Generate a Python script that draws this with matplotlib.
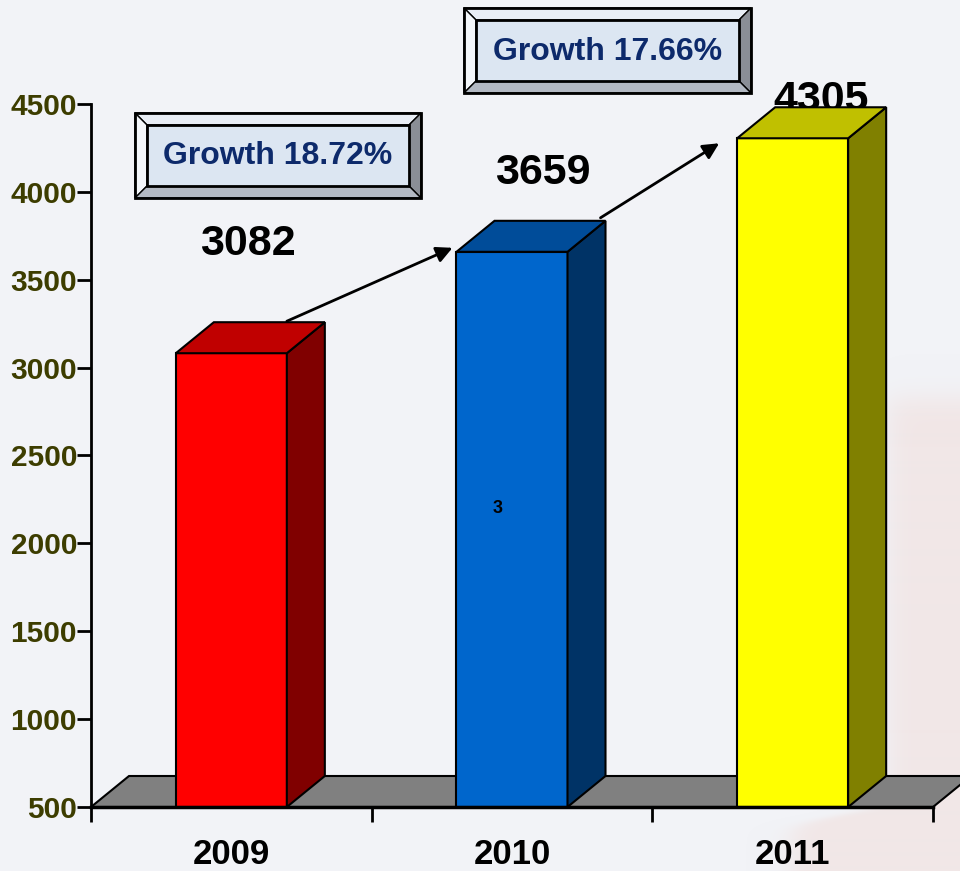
import numpy as np
import matplotlib.pyplot as plt
from matplotlib.patches import Polygon

years = ['2009', '2010', '2011']
revenue = [3082, 3659, 4305]
growth = ['Growth 18.72%', 'Growth 17.66%']
yticks = [500, 1000, 1500, 2000, 2500, 3000, 3500, 4000, 4500]

front_cols = ['#ff0000', '#0066cc', '#ffff00']
top_cols = ['#c00000', '#004c99', '#c0c000']
side_cols = ['#800000', '#003366', '#808000']

plt.rcParams['font.family'] = ['Liberation Sans', 'DejaVu Sans']
plt.rcParams['font.weight'] = 'bold'

W, H = 960, 871
fig = plt.figure(figsize=(W / 100, H / 100), dpi=100)
fig.patch.set_facecolor('#f2f3f7')

# pixel layer for background wash and callout boxes
bg = fig.add_axes([0, 0, 1, 1])
bg.set_xlim(0, W)
bg.set_ylim(H, 0)
bg.axis('off')

yy, xx = np.mgrid[0:H, 0:W].astype(float)
edge_x = 888 - 98 / (1 + np.exp(-(yy - 815) / 5))
alpha = 1 / (1 + np.exp(-(xx - edge_x) / 8)) / (1 + np.exp(-(yy - 398) / 8))
wash = np.zeros((H, W, 4))
wash[..., :3] = np.array([241, 231, 231]) / 255
wash[..., 3] = alpha
bg.imshow(wash, extent=(0, W, H, 0), aspect='auto', zorder=0, interpolation='bilinear')


def bevel_box(ax, x0, y0, x1, y1, b, text):
    ix0, iy0, ix1, iy1 = x0 + b, y0 + b, x1 - b, y1 - b
    ax.add_patch(Polygon([(x0, y0), (x1, y0), (ix1, iy0), (ix0, iy0)], fc='#e9eef6', ec='black', lw=1))
    ax.add_patch(Polygon([(x0, y0), (ix0, iy0), (ix0, iy1), (x0, y1)], fc='#f4f7fb', ec='black', lw=1))
    ax.add_patch(Polygon([(x1, y0), (x1, y1), (ix1, iy1), (ix1, iy0)], fc='#8a8e96', ec='black', lw=1))
    ax.add_patch(Polygon([(x0, y1), (ix0, iy1), (ix1, iy1), (x1, y1)], fc='#b3b9c3', ec='black', lw=1))
    ax.add_patch(Polygon([(ix0, iy0), (ix1, iy0), (ix1, iy1), (ix0, iy1)], fc='#dce6f2', ec='black', lw=2))
    ax.add_patch(Polygon([(x0, y0), (x1, y0), (x1, y1), (x0, y1)], fill=False, ec='black', lw=2))
    ax.text((x0 + x1) / 2, (y0 + y1) / 2 + 1, text, ha='center', va='center',
            fontsize=23, color='#0d2a6b', fontweight='bold')


bevel_box(bg, 135, 113, 421, 198, 12, growth[0])
bevel_box(bg, 464, 8, 751, 93, 12, growth[1])

# chart axes
x_left, x_right, y_bot, y_top = 91, 933, 807, 104
ax = fig.add_axes([x_left / W, 1 - y_bot / H, (x_right - x_left) / W, (y_bot - y_top) / H])
ax.set_facecolor('none')
ax.set_xlim(0, len(years))
ax.set_ylim(500, 4500)

px_x = len(years) / (x_right - x_left)
px_y = 4000 / (y_bot - y_top)
dx, dy = 38 * px_x, 31 * px_y
bw = 111 * px_x

# floor
floor = Polygon([(0, 500), (3, 500), (3 + dx, 500 + dy), (dx, 500 + dy)],
                fc='#808080', ec='black', lw=1.5, clip_on=False, zorder=1)
ax.add_patch(floor)

for i, v in enumerate(revenue):
    x0 = i + 0.5 - bw / 2
    x1 = x0 + bw
    ax.add_patch(Polygon([(x0, 500), (x1, 500), (x1, v), (x0, v)],
                         fc=front_cols[i], ec='black', lw=1.5, zorder=4, clip_on=False))
    ax.add_patch(Polygon([(x1, 500), (x1 + dx, 500 + dy), (x1 + dx, v + dy), (x1, v)],
                         fc=side_cols[i], ec='black', lw=1.5, zorder=4, clip_on=False))
    ax.add_patch(Polygon([(x0, v), (x1, v), (x1 + dx, v + dy), (x0 + dx, v + dy)],
                         fc=top_cols[i], ec='black', lw=1.5, zorder=4, clip_on=False))

# value labels above the bars
label_off = [620, 450, 220]
label_dx = [0.06, 0.11, 0.1]
for i, v in enumerate(revenue):
    ax.text(i + 0.5 + label_dx[i], v + label_off[i], str(v), ha='center', va='center',
            fontsize=31, fontweight='bold', color='black', zorder=3, clip_on=False)

ax.text(1.5 - 0.05, 2200, '3', ha='center', va='center', fontsize=13,
        fontweight='bold', color='black', zorder=5)

# growth arrows
arrow = dict(arrowstyle='-|>', color='black', lw=2, mutation_scale=24, shrinkA=0, shrinkB=0)
ax.annotate('', xy=(1.5 - bw / 2 - 4 * px_x, revenue[1] + 4 * px_y),
            xytext=(0.5 + bw / 2, revenue[0] + dy + 1 * px_y),
            arrowprops=arrow, zorder=6, annotation_clip=False)
ax.annotate('', xy=(2.5 - bw / 2 - 18 * px_x, revenue[2] - 5 * px_y),
            xytext=(1.5 + bw / 2 + 33 * px_x, revenue[1] + dy + 3 * px_y),
            arrowprops=arrow, zorder=6, annotation_clip=False)

for s in ['top', 'right']:
    ax.spines[s].set_visible(False)
ax.spines['left'].set_linewidth(2)
ax.spines['bottom'].set_linewidth(2.5)
ax.spines['bottom'].set_zorder(5)

ax.set_yticks(yticks)
ax.set_yticklabels([str(t) for t in yticks], fontsize=21.5, fontweight='bold', color='#3d3d00')
ax.tick_params(axis='y', length=10, width=2, pad=0)

ax.set_xticks([0, 1, 2, 3])
ax.set_xticklabels([])
ax.tick_params(axis='x', length=11, width=2, direction='out')
for i, yr in enumerate(years):
    ax.text(i + 0.5, -0.068, yr, transform=ax.get_xaxis_transform(), ha='center', va='center',
            fontsize=25, fontweight='bold', color='black', clip_on=False)

fig.savefig('out.png', dpi=100, facecolor=fig.get_facecolor())
